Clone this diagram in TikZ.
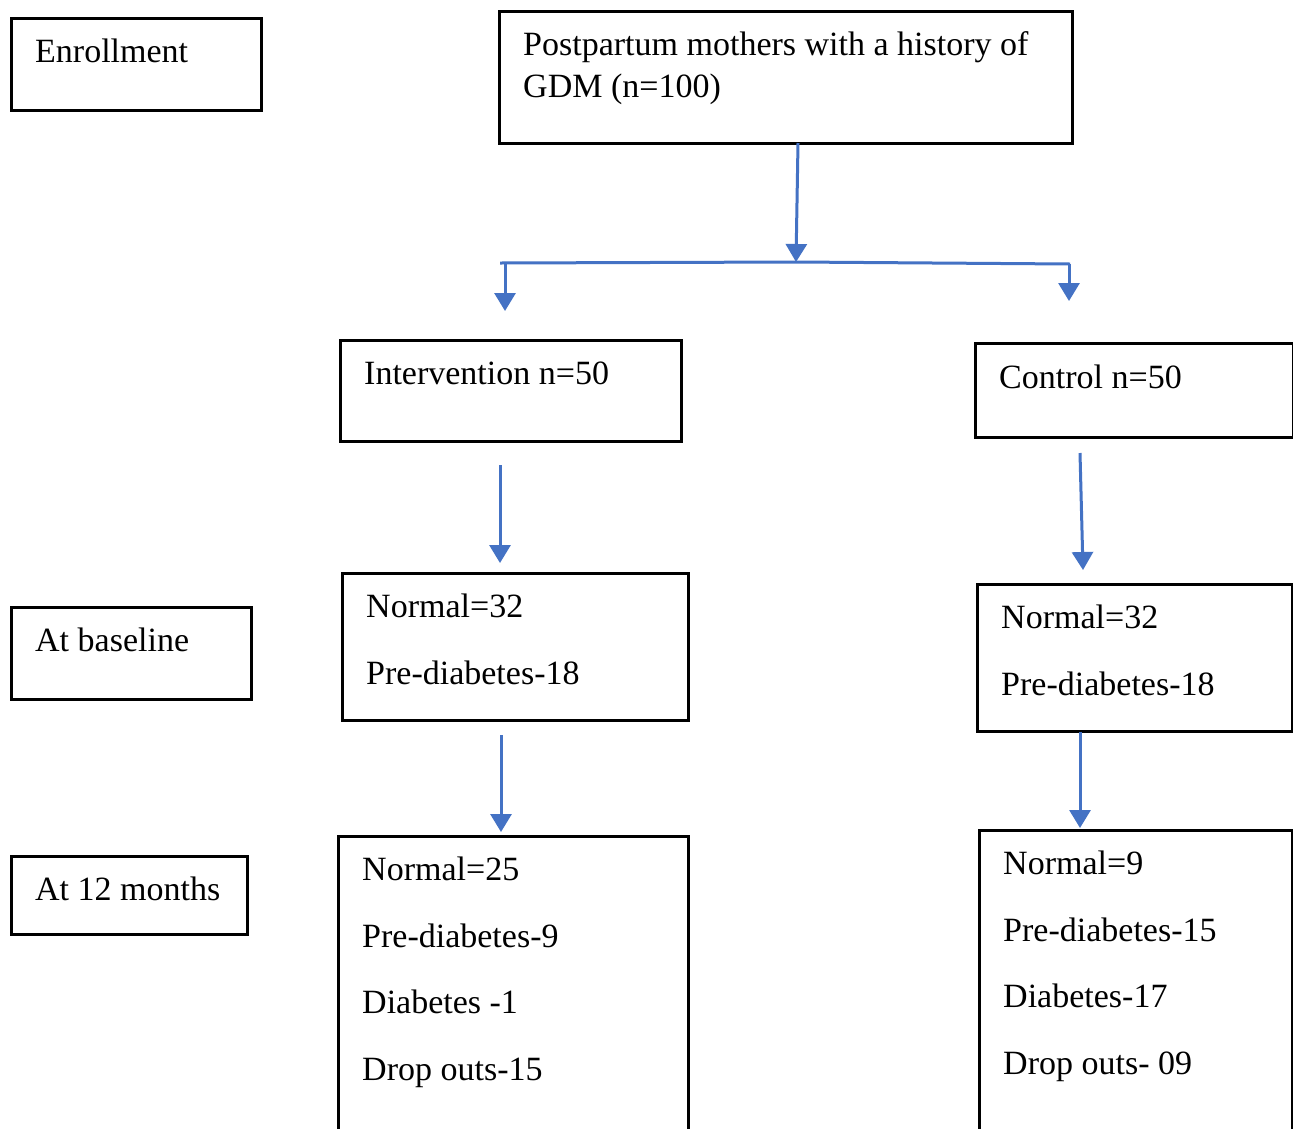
\documentclass[tikz,border=0pt]{standalone}
\usepackage{fontspec}
\setmainfont{Liberation Serif}
\usetikzlibrary{arrows.meta}
\definecolor{arrowblue}{HTML}{4472C4}
\tikzset{
  box/.style={draw=black, line width=2.5pt, fill=white, inner sep=0pt, anchor=north west},
  txt/.style={anchor=base west, inner sep=0pt, font=\fontsize{34}{40}\selectfont},
  arr/.style={draw=arrowblue, line width=3pt, -{Triangle[length=18pt,width=21pt]}},
  ln/.style={draw=arrowblue, line width=3pt}
}
\begin{document}
\begin{tikzpicture}[x=1pt,y=-1pt]
\clip (0,0) rectangle (1293,1128);
\fill[white] (0,0) rectangle (1293,1128);
% labels on the left
\node[box, minimum width=250pt, minimum height=92pt] (enr) at (10,17) {};
\node[txt] (enrt) at (35,62) {Enrollment};
\node[box, minimum width=240pt, minimum height=92pt] (base) at (10,606) {};
\node[txt] (baset) at (35,651) {At baseline};
\node[box, minimum width=236pt, minimum height=78pt] (twelve) at (10,855) {};
\node[txt] (twelvet) at (35,900) {At 12 months};
% top box
\node[box, minimum width=573pt, minimum height=132pt] (top) at (498,10) {};
\node[txt] (topt1) at (523,55) {Postpartum mothers with a history of};
\node[txt] (topt2) at (523,97) {GDM (n=100)};
% group boxes
\node[box, minimum width=341pt, minimum height=101pt] (int) at (339,339) {};
\node[txt] (intt) at (364,384) {Intervention n=50};
\node[box, minimum width=318pt, minimum height=94pt] (ctl) at (974,342) {};
\node[txt] (ctlt) at (999,388) {Control n=50};
% baseline boxes
\node[box, minimum width=346pt, minimum height=147pt] (ib) at (341,572) {};
\node[txt] (ib1) at (366,617) {Normal=32};
\node[txt] (ib2) at (366,684) {Pre-diabetes-18};
\node[box, minimum width=315pt, minimum height=147pt] (cb) at (976,583) {};
\node[txt] (cb1) at (1001,628) {Normal=32};
\node[txt] (cb2) at (1001,695) {Pre-diabetes-18};
% 12 month boxes
\node[box, minimum width=350pt, minimum height=320pt] (i12) at (337,835) {};
\node[txt] (i121) at (362,880) {Normal=25};
\node[txt] (i122) at (362,947) {Pre-diabetes-9};
\node[txt] (i123) at (362,1013) {Diabetes -1};
\node[txt] (i124) at (362,1080) {Drop outs-15};
\node[box, minimum width=313pt, minimum height=320pt] (c12) at (978,829) {};
\node[txt] (c121) at (1003,874) {Normal=9};
\node[txt] (c122) at (1003,941) {Pre-diabetes-15};
\node[txt] (c123) at (1003,1007) {Diabetes-17};
\node[txt] (c124) at (1003,1074) {Drop outs- 09};
% connector coordinates
\coordinate (s0) at (798,143);
\coordinate (s1) at (796,262);
\coordinate (hl) at (500,263);
\coordinate (hr) at (1070,264);
\coordinate (dl0) at (505,264);
\coordinate (dl1) at (505,311);
\coordinate (dr0) at (1069,264);
\coordinate (dr1) at (1069,301);
\coordinate (a10) at (500,465);
\coordinate (a11) at (500,563);
\coordinate (a20) at (1080,453);
\coordinate (a21) at (1083,570);
\coordinate (a30) at (501,735);
\coordinate (a31) at (501,832);
\coordinate (a40) at (1080,732);
\coordinate (a41) at (1080,828);
% connectors
\draw[ln] (hl) -- (s1) -- (hr);
\draw[arr] (s0) -- (s1);
\draw[arr] (dl0) -- (dl1);
\draw[arr] (dr0) -- (dr1);
\draw[arr] (a10) -- (a11);
\draw[arr] (a20) -- (a21);
\draw[arr] (a30) -- (a31);
\draw[arr] (a40) -- (a41);
\end{tikzpicture}
\end{document}
